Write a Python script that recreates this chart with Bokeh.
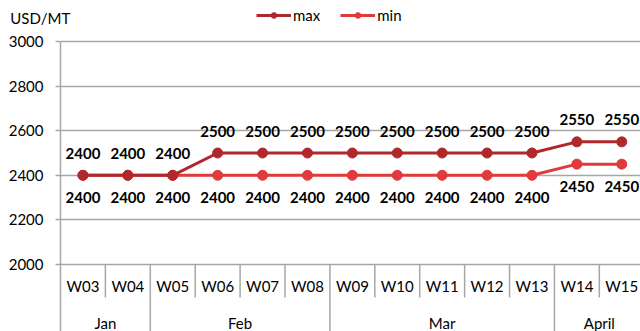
from bokeh.plotting import figure
from bokeh.models import Range1d, FixedTicker, Legend, LegendItem
from bokeh.core.properties import value
from bokeh.embed import file_html
from bokeh.resources import INLINE

weeks = ["W03", "W04", "W05", "W06", "W07", "W08", "W09", "W10", "W11", "W12", "W13", "W14", "W15"]
months = ["Jan", "Jan", "Feb", "Feb", "Feb", "Feb", "Mar", "Mar", "Mar", "Mar", "Mar", "April", "April"]
max_vals = [2400, 2400, 2400, 2500, 2500, 2500, 2500, 2500, 2500, 2500, 2500, 2550, 2550]
min_vals = [2400, 2400, 2400, 2400, 2400, 2400, 2400, 2400, 2400, 2400, 2400, 2450, 2450]
y_ticks = [2000, 2200, 2400, 2600, 2800, 3000]
unit_label = "USD/MT"

FONT = "Lato"
MAX_COLOR = "#B0282B"
MIN_COLOR = "#E03A3C"
GRID = "#A6A6A6"

Y_TOP = 3183.9
Y_BOT = 1699.6
Y_WEEK_TXT = 1905
Y_MONTH_TXT = 1738
Y_SHORT = 1852
UNIT_X = -0.95
UNIT_Y = 3106

p = figure(width=640, height=331, output_backend="svg", toolbar_location=None,
           x_range=Range1d(-0.5, 12.417), y_range=Range1d(Y_BOT, Y_TOP),
           min_border_left=60, min_border_right=0, min_border_top=0, min_border_bottom=0)
p.outline_line_color = None
p.xaxis.visible = False
p.xgrid.visible = False
p.background_fill_color = "white"
p.border_fill_color = "white"

ya = p.yaxis[0]
ya.ticker = FixedTicker(ticks=y_ticks)
ya.bounds = (Y_BOT, 3000)
ya.axis_line_color = GRID
ya.axis_line_width = 1.5
ya.major_tick_line_color = GRID
ya.major_tick_line_width = 1.5
ya.major_tick_out = 5
ya.major_tick_in = 0
ya.minor_tick_line_color = None
ya.major_label_standoff = 12
ya.major_label_text_font = FONT
ya.major_label_text_font_size = "15px"
ya.major_label_text_color = "#000000"

p.ygrid.ticker = FixedTicker(ticks=y_ticks)
p.ygrid.grid_line_color = GRID
p.ygrid.grid_line_width = 1.5

xs = list(range(len(weeks)))

# category separators
sep_x = [i + 0.5 for i in range(len(weeks) - 1)]
long_sep = [i + 0.5 for i in range(len(weeks) - 1) if months[i] != months[i + 1]]
short_sep = [x for x in sep_x if x not in long_sep]
p.segment(x0=short_sep, y0=[2000] * len(short_sep), x1=short_sep, y1=[Y_SHORT] * len(short_sep),
          line_color=GRID, line_width=1.5)
p.segment(x0=long_sep, y0=[2000] * len(long_sep), x1=long_sep, y1=[Y_BOT] * len(long_sep),
          line_color=GRID, line_width=1.5)

# week labels
p.text(x=xs, y=[Y_WEEK_TXT] * len(xs), text=weeks, text_font=value(FONT), text_font_size="15px",
       text_align="center", text_baseline="middle", text_color="#000000")

# month labels
m_names, m_centers = [], []
start = 0
for i in range(1, len(months) + 1):
    if i == len(months) or months[i] != months[start]:
        m_names.append(months[start])
        m_centers.append((start + i - 1) / 2)
        start = i
p.text(x=m_centers, y=[Y_MONTH_TXT] * len(m_centers), text=m_names, text_font=value(FONT),
       text_font_size="15px", text_align="center", text_baseline="middle", text_color="#000000")

# series
r_min_l = p.line(xs, min_vals, line_color=MIN_COLOR, line_width=3)
r_min_c = p.scatter(xs, min_vals, size=10, fill_color=MIN_COLOR, line_color=MIN_COLOR)
r_max_l = p.line(xs, max_vals, line_color=MAX_COLOR, line_width=3)
r_max_c = p.scatter(xs, max_vals, size=10, fill_color=MAX_COLOR, line_color=MAX_COLOR)

# data labels
p.text(x=xs, y=max_vals, text=[str(v) for v in max_vals], y_offset=-22, text_font=value(FONT),
       text_font_size="15px", text_font_style="bold", text_align="center", text_baseline="middle",
       text_color="#000000")
p.text(x=xs, y=min_vals, text=[str(v) for v in min_vals], y_offset=22, text_font=value(FONT),
       text_font_size="15px", text_font_style="bold", text_align="center", text_baseline="middle",
       text_color="#000000")

# unit label (outside the frame, on the overlay level)
p.text(x=[UNIT_X], y=[UNIT_Y], text=[unit_label], text_font=value(FONT), text_font_size="15px",
       text_align="center", text_baseline="middle", text_color="#000000", level="overlay")

legend = Legend(items=[LegendItem(label="max", renderers=[r_max_l, r_max_c]),
                       LegendItem(label="min", renderers=[r_min_l, r_min_c])],
                orientation="horizontal", location=(196, 307),
                label_text_font=FONT, label_text_font_size="15px", label_text_color="#000000",
                glyph_width=35, glyph_height=14, label_standoff=2, spacing=20,
                padding=0, margin=0, border_line_color=None, background_fill_alpha=0)
p.add_layout(legend)

open("out.html", "w").write(file_html(p, INLINE))
